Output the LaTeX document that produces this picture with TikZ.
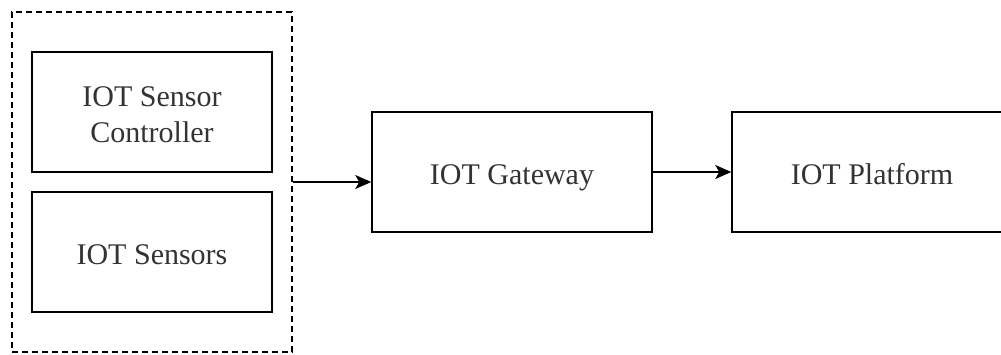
\documentclass[tikz,border=0pt]{standalone}
\usepackage{fontspec}
\setmainfont{Liberation Serif}
\usetikzlibrary{arrows.meta}
\newcommand\mylowstrut{\rule[-10.8pt]{0pt}{45.6pt}}
\begin{document}
\begin{tikzpicture}[x=1pt,y=-1pt,
  box/.style={draw=black,line width=1.5pt,minimum width=#1,inner sep=0pt,align=center,font=\fontsize{30}{36}\selectfont,text=black!80},
  box/.default=240pt,
  conn/.style={line width=1.5pt,-{Stealth[length=16pt,width=14pt,inset=4pt]}}]
\useasboundingbox (0,0) rectangle (1001,354);
\node[draw=black,dash pattern=on 6pt off 4pt,line width=1.4pt,minimum width=280pt,minimum height=340pt,inner sep=0pt] (group) at (152,182) {};
\node[box=240pt,minimum height=120pt] (ctrl) at (152,112) {\mylowstrut IOT Sensor\\Controller\strut};
\node[box=240pt,minimum height=120pt] (sens) at (152,252) {\mylowstrut IOT Sensors};
\node[box=280pt,minimum height=120pt] (gw) at (512,172) {\mylowstrut IOT Gateway};
\node[box=280pt,minimum height=120pt] (pf) at (872,172) {\mylowstrut IOT Platform};
\draw[conn] (group.east) -- (group.east -| gw.west);
\draw[conn] (gw.east) -- (pf.west);
\end{tikzpicture}
\end{document}
